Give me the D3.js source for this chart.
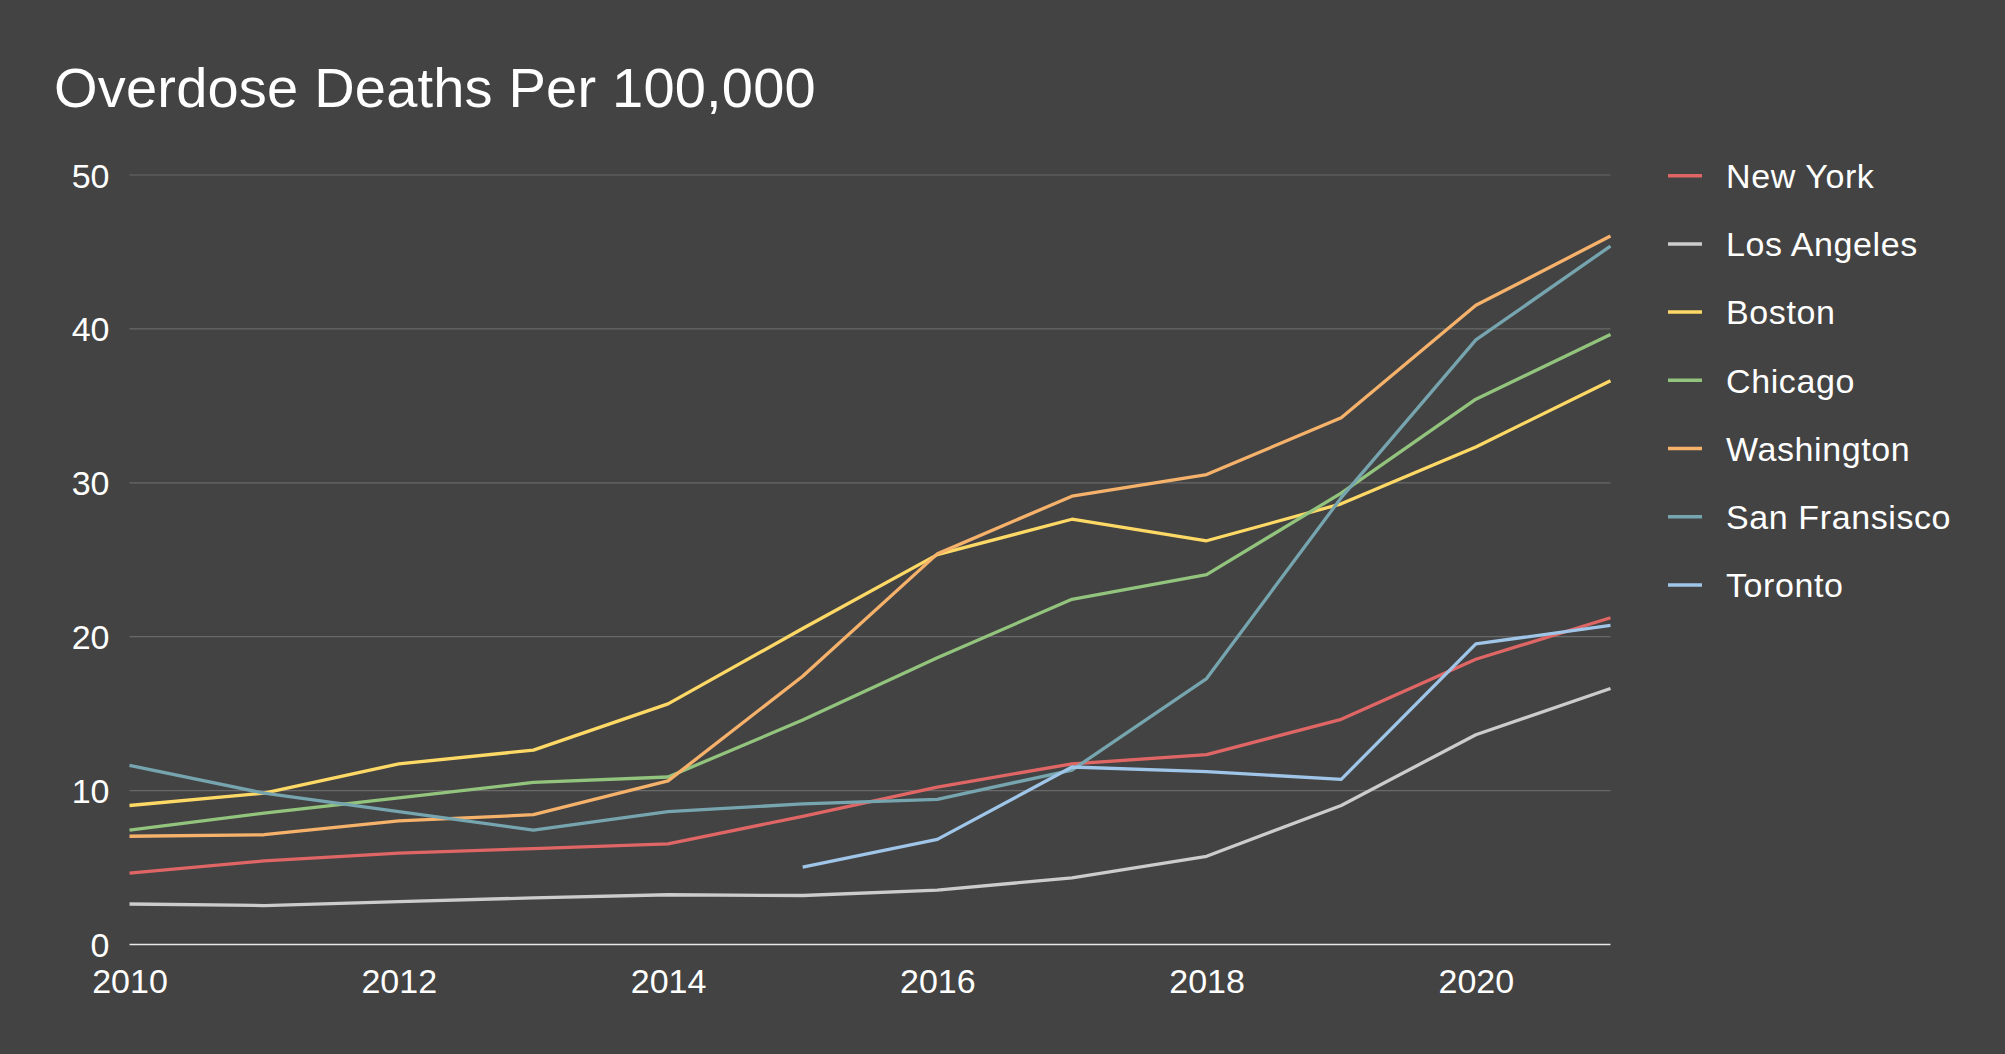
<!DOCTYPE html>
<html>
<head>
<meta charset="utf-8">
<script src="https://cdn.jsdelivr.net/npm/d3@7"></script>
<style>
  html, body { margin: 0; padding: 0; background: #434343; }
  svg { display: block; font-family: "Liberation Sans", Arial, sans-serif; }
</style>
</head>
<body>
<svg id="chart" width="2005" height="1054"></svg>
<script>
const years = [2010, 2011, 2012, 2013, 2014, 2015, 2016, 2017, 2018, 2019, 2020, 2021];
const cities = ["New York", "Los Angeles", "Boston", "Chicago", "Washington", "San Fransisco", "Toronto"];
const newYork = [4.6, 5.4, 5.9, 6.2, 6.5, 8.3, 10.2, 11.7, 12.3, 14.6, 18.5, 21.2];
const losAngeles = [2.6, 2.5, 2.75, 3.0, 3.2, 3.15, 3.5, 4.3, 5.7, 9.0, 13.6, 16.6];
const boston = [9.0, 9.8, 11.7, 12.6, 15.6, 20.5, 25.3, 27.6, 26.2, 28.6, 32.3, 36.6];
const chicago = [7.4, 8.5, 9.5, 10.5, 10.85, 14.55, 18.6, 22.4, 24.0, 29.3, 35.4, 39.6];
const washington = [7.0, 7.1, 8.0, 8.4, 10.6, 17.4, 25.35, 29.1, 30.5, 34.2, 41.5, 46.0];
const sanFrancisco = [11.6, 9.8, 8.6, 7.4, 8.6, 9.1, 9.4, 11.3, 17.25, 29.0, 39.25, 45.35];
const toronto = [null, null, null, null, null, 5.0, 6.8, 11.5, 11.2, 10.7, 19.5, 20.7];
const yTicks = [0, 10, 20, 30, 40, 50];
const xTicks = [2010, 2012, 2014, 2016, 2018, 2020];

const seriesValues = [newYork, losAngeles, boston, chicago, washington, sanFrancisco, toronto];
const colors = ["#e06666", "#cccccc", "#ffd966", "#93c47d", "#f6b26b", "#76a5af", "#9fc5e8"];

const svg = d3.select("#chart");

// plot area edges
const plotLeft = 129.5, plotRight = 1610.5, plotTop = 174.5, plotBottom = 944;

const x = d3.scaleLinear().domain([2010, 2021]).range([plotLeft, plotRight]);
const y = d3.scaleLinear().domain([0, 50]).range([plotBottom, plotTop]);

// title
svg.append("text")
  .attr("x", 54)
  .attr("y", 107)
  .attr("fill", "#ffffff")
  .attr("font-size", 56)
  .attr("letter-spacing", 0.2)
  .text("Overdose Deaths Per 100,000");

// y axis with gridlines
const yAxis = svg.append("g")
  .attr("transform", `translate(${plotLeft},0)`)
  .call(d3.axisLeft(y).tickValues(yTicks).tickSize(-(plotRight - plotLeft)).tickPadding(20));
yAxis.select(".domain").remove();
yAxis.selectAll(".tick line")
  .attr("stroke", (d) => (d === 0 ? "#e8e8e8" : "#696969"))
  .attr("stroke-width", (d) => (d === 0 ? 1.6 : 1.2));
yAxis.selectAll(".tick text")
  .attr("fill", "#ffffff")
  .attr("font-size", 34)
  .attr("font-family", "Liberation Sans, Arial, sans-serif")
  .attr("dy", "0.37em");

// x axis labels
const xAxis = svg.append("g")
  .attr("transform", `translate(0,${plotBottom})`)
  .call(d3.axisBottom(x).tickValues(xTicks).tickFormat(d3.format("d")).tickSize(0).tickPadding(0));
xAxis.select(".domain").remove();
xAxis.selectAll(".tick text")
  .attr("fill", "#ffffff")
  .attr("font-size", 34)
  .attr("font-family", "Liberation Sans, Arial, sans-serif")
  .attr("dy", 0)
  .attr("y", 49);

// lines
const line = d3.line()
  .defined((d) => d != null)
  .x((d, i) => x(years[i]))
  .y((d) => y(d));

svg.append("g")
  .selectAll("path")
  .data(seriesValues)
  .enter()
  .append("path")
  .attr("d", line)
  .attr("fill", "none")
  .attr("stroke", (d, i) => colors[i])
  .attr("stroke-width", 3.3)
  .attr("stroke-linejoin", "round");

// legend
const legend = svg.append("g")
  .selectAll("g")
  .data(cities)
  .enter()
  .append("g")
  .attr("transform", (d, i) => `translate(1668,${175.7 + i * 68.2})`);

legend.append("line")
  .attr("x1", 0)
  .attr("x2", 34)
  .attr("stroke", (d, i) => colors[i])
  .attr("stroke-width", 3.5);

legend.append("text")
  .attr("x", 58)
  .attr("dy", "0.36em")
  .attr("fill", "#ffffff")
  .attr("font-size", 34)
  .attr("letter-spacing", 0.6)
  .text((d) => d);
</script>
</body>
</html>
